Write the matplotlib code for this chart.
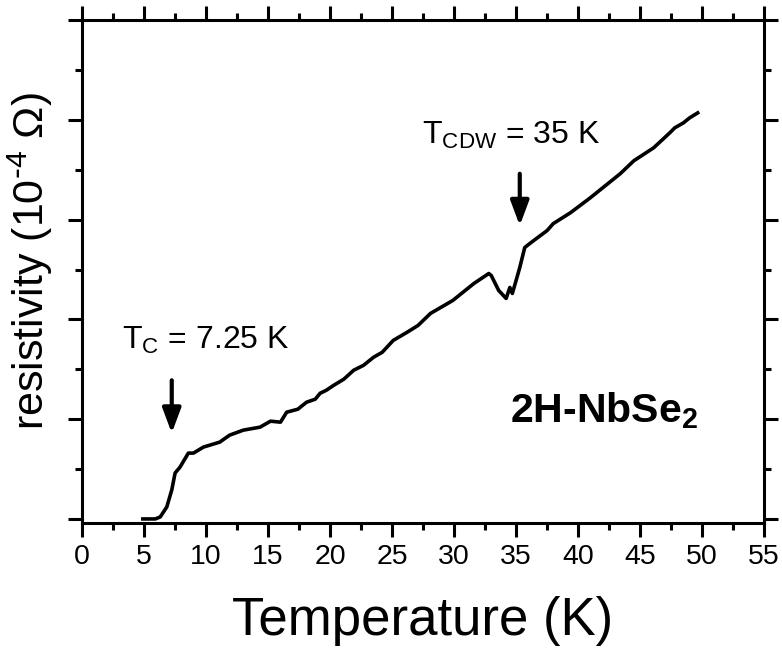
import matplotlib
matplotlib.use("Agg")
import matplotlib.pyplot as plt
from matplotlib.ticker import MultipleLocator

plt.rcParams['font.family'] = ['Liberation Sans', 'DejaVu Sans']
plt.rcParams['mathtext.default'] = 'regular'

# resistivity curve of 2H-NbSe2 (units of 1e-4 Ohm)
temperature = [4.9, 5.9, 6.3, 6.83, 7.23, 7.5, 7.9, 8.57, 8.98, 9.78, 11.1, 11.9,
               13.0, 14.35, 15.2, 16.0, 16.5, 17.4, 18.1, 18.8, 19.2, 19.7, 20.3,
               21.1, 21.9, 22.7, 23.5, 24.2, 25.1, 26.2, 27.1, 28.1, 29.9, 31.6,
               32.8, 33.0, 33.6, 34.2, 34.5, 34.7, 35.05, 35.3, 35.7, 36.1, 37.5,
               38.0, 39.4, 41.0, 42.0, 43.4, 44.5, 46.1, 47.4, 47.8, 48.5, 49.0, 49.65]
resistivity = [0.0, 0.0, 0.02, 0.12, 0.29, 0.46, 0.52, 0.66, 0.66, 0.72, 0.77, 0.84,
               0.89, 0.92, 0.98, 0.97, 1.07, 1.10, 1.17, 1.20, 1.26, 1.29, 1.34,
               1.40, 1.49, 1.54, 1.62, 1.67, 1.79, 1.87, 1.94, 2.06, 2.19, 2.36,
               2.46, 2.44, 2.29, 2.21, 2.32, 2.26, 2.41, 2.52, 2.72, 2.76, 2.89,
               2.96, 3.07, 3.22, 3.32, 3.46, 3.59, 3.72, 3.87, 3.92, 3.97, 4.02, 4.07]

tc_arrow = (7.23, 1.39, 0.86)     # x, tail y, tip y
tcdw_arrow = (35.3, 3.46, 2.94)

fig = plt.figure(figsize=(7.82, 6.48), dpi=100)
ax = fig.add_axes([0.105, 0.193, 0.872, 0.776])

ax.plot(temperature, resistivity, color='black', lw=2.6)

for x, y0, y1 in (tc_arrow, tcdw_arrow):
    ax.annotate('', xy=(x, y1), xytext=(x, y0),
                arrowprops=dict(arrowstyle='-|>,head_width=0.28,head_length=0.75',
                                lw=3, color='black', mutation_scale=20,
                                shrinkA=0, shrinkB=0))

ax.text(3.2, 1.70, r'T$_{C}$ = 7.25 K', fontsize=23)
ax.text(27.4, 3.76, r'T$_{CDW}$ = 35 K', fontsize=23)
ax.text(34.5, 0.97, r'2H-NbSe$_{2}$', fontsize=29.5, fontweight='bold')

ax.set_xlim(0, 55)
ax.set_ylim(-0.04, 5.0)
ax.xaxis.set_major_locator(MultipleLocator(5))
ax.xaxis.set_minor_locator(MultipleLocator(2.5))
ax.yaxis.set_major_locator(MultipleLocator(1))
ax.yaxis.set_minor_locator(MultipleLocator(0.5))
ax.tick_params(which='both', direction='out', width=2.2, top=True, right=True,
               labelleft=False, labelsize=20.5)
ax.tick_params(which='major', length=10, pad=5)
ax.tick_params(which='minor', length=5)
for s in ax.spines.values():
    s.set_linewidth(2.2)

ax.set_xlabel('Temperature (K)', fontsize=38, labelpad=19)
ax.set_ylabel(r'resistivity (10$^{\text{-}4}$ Ω)', fontsize=31)
ax.yaxis.set_label_coords(-0.04, 0.52)

fig.savefig('out.png', dpi=100)
